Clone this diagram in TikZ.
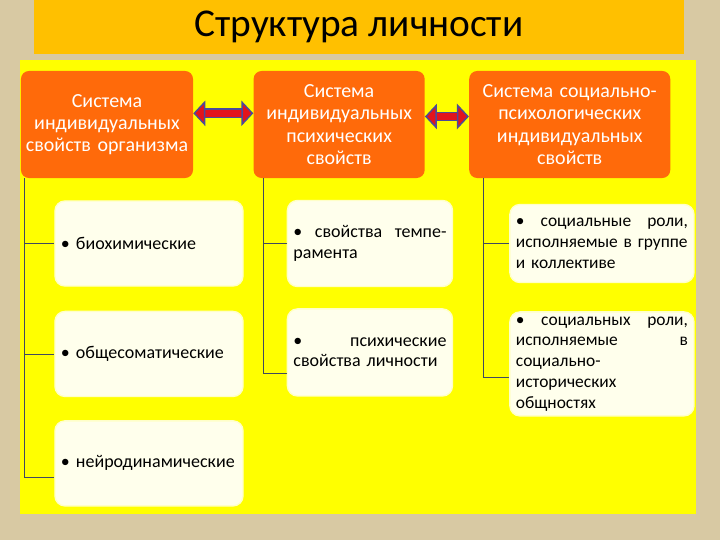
\documentclass[tikz,border=0pt]{standalone}
\usepackage{fontspec}
\setmainfont{Carlito}
\usetikzlibrary{arrows.meta,positioning,calc}
\definecolor{paper}{HTML}{D8C9A3}
\definecolor{band}{HTML}{FFC000}
\definecolor{panel}{HTML}{FFFF00}
\definecolor{hdrorange}{HTML}{FF6A0A}
\definecolor{cream}{HTML}{FFFFEC}
\definecolor{creamedge}{HTML}{FFFFC8}
\definecolor{arrowred}{HTML}{E3141C}
\definecolor{arrowblue}{HTML}{4B4A9A}
\definecolor{linegray}{HTML}{404A60}

\begin{document}
\begin{tikzpicture}[x=0.025cm, y=-0.025cm, node distance=0.6cm,
  hdr/.style={fill=hdrorange, rounded corners=0.2cm, text=white, align=center,
    font=\fontsize{14.2}{15.8}\selectfont, minimum height=2.675cm, inner sep=0.1cm},
  item/.style={fill=cream, draw=creamedge, line width=1pt, rounded corners=0.25cm,
    align=left, font=\fontsize{12.8}{14.5}\selectfont, inner xsep=0.15cm},
  colone/.style={item, minimum width=4.7cm, text width=4.4cm, minimum height=2.125cm},
  coltwo/.style={item, minimum width=4.125cm, text width=3.825cm, minimum height=2.15cm},
  colthree/.style={item, minimum width=4.6cm, text width=4.3cm, font=\fontsize{12.4}{14.8}\selectfont},
  tick/.style={draw=linegray, line width=0.5pt},
  dblarrow/.style={draw=arrowblue, line width=1pt, double=arrowred, double distance=5pt,
    {Triangle[length=8.5pt,width=18pt,fill=arrowred]}-{Triangle[length=8.5pt,width=18pt,fill=arrowred]}}]
  % background, title band and panel
  \fill[paper] (0,0) rectangle (720,540);
  \fill[band] (34,0) rectangle (684,54);
  \fill[panel] (20,60) rectangle (696,514);
  \node[font=\fontsize{28}{32}\selectfont] (title) at (359,27) {Структура личности};
  % headers
  \node[hdr, minimum width=4.3cm, text width=4.1cm] (hdrOrg) at (107,124.5) {Система\\индивидуальных\\свойств организма};
  \node[hdr, minimum width=4.275cm, text width=4.05cm, right=1.5cm of hdrOrg] (hdrPsy) {Система\\индивидуальных\\психических\\свойств};
  \node[hdr, minimum width=5.025cm, text width=4.8cm, right=1.1cm of hdrPsy] (hdrSoc) {Система социально-\\психологических\\индивидуальных\\свойств};
  \draw[dblarrow] ([yshift=0.28cm]hdrOrg.east) -- ([yshift=0.28cm]hdrPsy.west);
  \draw[dblarrow] ([yshift=0.2cm]hdrPsy.east) -- ([yshift=0.2cm]hdrSoc.west);
  % first column
  \node[colone] (bio) at (149,243.5) {• биохимические};
  \node[colone, below=0.6cm of bio] (soma) {• общесоматические};
  \node[colone, below=0.575cm of soma] (neuro) {• нейродинамические};
  % second column
  \node[coltwo, right=1.075cm of bio] (temper) {•\hfill свойства\hfill темпе-\\рамента};
  \node[coltwo, minimum height=2.175cm, below=0.525cm of temper] (persona) {•\hfill психические\\свойства личности};
  % third column
  \node[colthree, minimum height=1.95cm, right=1.4cm of temper] (roleGroup) {•\hfill социальные\hfill роли,\\исполняемые в группе\\и коллективе};
  \node[colthree, minimum height=2.55cm, below=0.7cm of roleGroup] (roleHist) {•\hfill социальных\hfill роли,\\исполняемые\hfill в\\социально-\\исторических\\общностях};
  % tree lines
  \coordinate (spineOrg) at ([xshift=0.1cm]hdrOrg.south west);
  \coordinate (spinePsy) at ([xshift=0.25cm]hdrPsy.south west);
  \coordinate (spineSoc) at ([xshift=0.35cm]hdrSoc.south west);
  \draw[tick] (spineOrg) |- (bio.west);
  \draw[tick] (spineOrg) |- (soma.west);
  \draw[tick] (spineOrg) |- ($(neuro.west)+(0,14)$);
  \draw[tick] (spinePsy) |- (temper.west);
  \draw[tick] (spinePsy) |- ($(persona.west)+(0,21)$);
  \draw[tick] (spineSoc) |- (roleGroup.west);
  \draw[tick] (spineSoc) |- ($(roleHist.west)+(0,13)$);
\end{tikzpicture}
\end{document}
